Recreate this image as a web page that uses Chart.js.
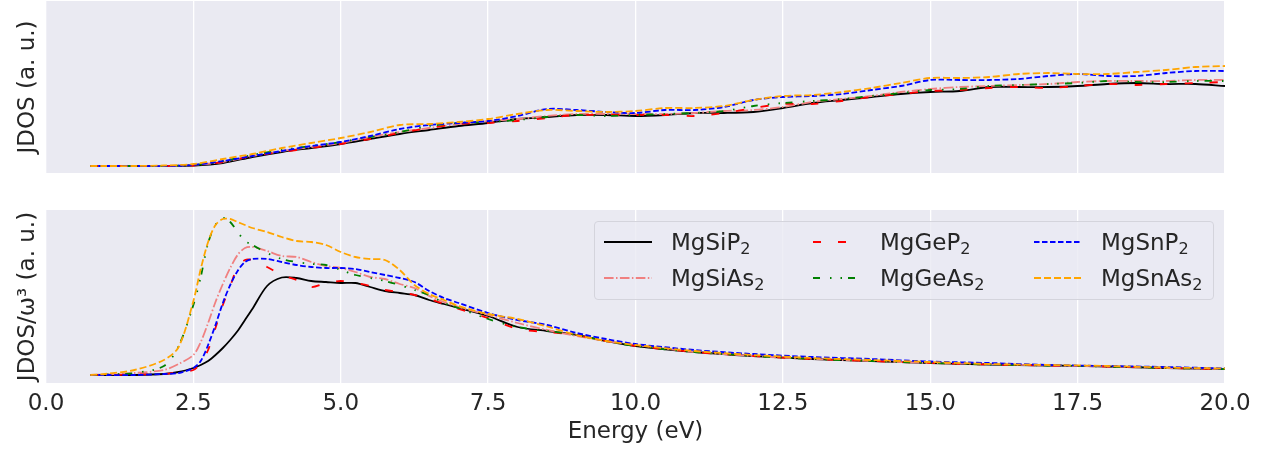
<!DOCTYPE html>
<html>
<head>
<meta charset="utf-8">
<script src="https://cdn.jsdelivr.net/npm/chart.js@4.4.0/dist/chart.umd.min.js"></script>
<style>
    body { margin: 0; background: #ffffff; }
    #wrap { position: relative; width: 1271px; height: 450px; font-family: 'DejaVu Sans', sans-serif; }
    #legend {
        position: absolute; left: 594px; top: 221px; width: 618px; height: 77px;
        background: rgba(234, 234, 242, 0.8); border: 1px solid #d4d4dc; border-radius: 4px;
    }
    .swatch { position: absolute; }
    .ltext { position: absolute; font-size: 23px; line-height: 28px; color: #262626; white-space: nowrap; }
    .ltext sub { font-size: 0.7em; vertical-align: -0.25em; line-height: 0; }
</style>
</head>
<body>
<div id="wrap">
    <canvas id="topChart" width="1271" height="180" style="position:absolute;left:0;top:0"></canvas>
    <canvas id="botChart" width="1271" height="270" style="position:absolute;left:0;top:180px"></canvas>
    <div id="legend"></div>
</div>
<script>
// compounds in legend order (two rows, three columns)
const compounds = ['MgSiP2', 'MgSiAs2', 'MgGeP2', 'MgGeAs2', 'MgSnP2', 'MgSnAs2'];
const colors = ['#000000', '#f08080', '#ff0000', '#008000', '#0000ff', '#ffa500'];
const dashes = [[], [9.6, 2.4, 1.5, 2.4], [8, 17], [7, 10, 1.5, 9, 1.5, 6], [5.5, 2.5], [7, 3]];

// upper panel: JDOS
const energyTop = [0.75, 1, 1.5, 2, 2.5, 3, 3.5, 4, 4.5, 5, 5.5, 6, 6.5, 7, 7.5, 8, 8.5, 9, 9.5, 10,
    10.5, 11, 11.5, 12, 12.5, 13, 13.5, 14, 14.5, 15, 15.5, 16, 16.5, 17, 17.5, 18, 18.5, 19, 19.5, 20];
const jdosMgSiP2 = [0, 0, 0, 0, 0.005, 0.03, 0.09, 0.14, 0.18, 0.22, 0.27, 0.32, 0.36, 0.40, 0.43, 0.47, 0.49, 0.51, 0.51, 0.50,
    0.51, 0.53, 0.53, 0.54, 0.58, 0.63, 0.66, 0.69, 0.72, 0.74, 0.75, 0.79, 0.79, 0.79, 0.80, 0.82, 0.83, 0.82, 0.82, 0.80];
const jdosMgSiAs2 = [0, 0, 0, 0, 0.01, 0.04, 0.10, 0.15, 0.19, 0.23, 0.29, 0.34, 0.38, 0.42, 0.45, 0.47, 0.50, 0.52, 0.52, 0.52,
    0.52, 0.53, 0.55, 0.56, 0.59, 0.64, 0.67, 0.70, 0.74, 0.77, 0.79, 0.80, 0.81, 0.82, 0.84, 0.85, 0.85, 0.85, 0.86, 0.86];
const jdosMgGeP2 = [0, 0, 0, 0, 0.005, 0.04, 0.10, 0.14, 0.18, 0.22, 0.27, 0.33, 0.38, 0.42, 0.43, 0.45, 0.48, 0.51, 0.51, 0.51,
    0.51, 0.50, 0.53, 0.58, 0.62, 0.62, 0.65, 0.69, 0.72, 0.75, 0.76, 0.78, 0.79, 0.78, 0.80, 0.82, 0.81, 0.82, 0.83, 0.84];
const jdosMgGeAs2 = [0, 0, 0, 0, 0.01, 0.05, 0.11, 0.16, 0.20, 0.24, 0.29, 0.34, 0.40, 0.43, 0.44, 0.46, 0.49, 0.51, 0.50, 0.51,
    0.52, 0.53, 0.55, 0.60, 0.63, 0.65, 0.67, 0.70, 0.73, 0.76, 0.77, 0.80, 0.81, 0.82, 0.83, 0.85, 0.84, 0.84, 0.85, 0.85];
const jdosMgSnP2 = [0, 0, 0, 0, 0.01, 0.05, 0.10, 0.15, 0.20, 0.24, 0.30, 0.37, 0.41, 0.43, 0.45, 0.50, 0.57, 0.56, 0.54, 0.53,
    0.56, 0.56, 0.59, 0.66, 0.69, 0.70, 0.72, 0.76, 0.80, 0.86, 0.86, 0.86, 0.87, 0.90, 0.92, 0.90, 0.90, 0.93, 0.95, 0.95];
const jdosMgSnAs2 = [0, 0, 0, 0.005, 0.02, 0.07, 0.12, 0.18, 0.23, 0.28, 0.34, 0.41, 0.42, 0.44, 0.47, 0.52, 0.56, 0.55, 0.54, 0.55,
    0.58, 0.58, 0.60, 0.66, 0.70, 0.71, 0.74, 0.78, 0.83, 0.88, 0.88, 0.89, 0.92, 0.93, 0.92, 0.92, 0.94, 0.96, 0.99, 1.00];

// lower panel: JDOS / w^3
const energyBot = [0.75, 1, 1.5, 2, 2.25, 2.5, 2.625, 2.75, 2.875, 3, 3.125, 3.25, 3.375, 3.5, 3.75, 4, 4.25, 4.5, 4.75, 5,
    5.25, 5.5, 5.75, 6, 6.25, 6.5, 6.75, 7, 7.5, 8, 8.5, 9, 9.5, 10, 11, 12, 13, 14, 15, 16, 17, 18, 19, 20];
const scaledMgSiP2 = [0, 0, 0, 0.01, 0.03, 0.07, 0.10, 0.14, 0.20, 0.27, 0.35, 0.44, 0.55, 0.66, 0.89, 0.975, 0.97, 0.94, 0.93, 0.92,
    0.92, 0.88, 0.84, 0.82, 0.80, 0.75, 0.71, 0.67, 0.59, 0.48, 0.44, 0.40, 0.34, 0.29, 0.23, 0.19, 0.16, 0.14, 0.12, 0.105, 0.095, 0.085, 0.07, 0.06];
const scaledMgSiAs2 = [0, 0.005, 0.02, 0.05, 0.11, 0.20, 0.33, 0.52, 0.73, 0.91, 1.07, 1.20, 1.27, 1.28, 1.24, 1.19, 1.18, 1.13, 1.09, 1.07,
    1.03, 0.98, 0.96, 0.91, 0.87, 0.79, 0.73, 0.68, 0.60, 0.52, 0.45, 0.39, 0.34, 0.30, 0.23, 0.19, 0.16, 0.14, 0.12, 0.11, 0.095, 0.085, 0.07, 0.06];
const scaledMgGeP2 = [0, 0, 0.005, 0.01, 0.03, 0.05, 0.12, 0.25, 0.47, 0.70, 0.89, 1.08, 1.15, 1.15, 1.08, 1.00, 0.95, 0.88, 0.92, 0.94,
    0.92, 0.89, 0.85, 0.83, 0.80, 0.76, 0.71, 0.66, 0.57, 0.46, 0.43, 0.40, 0.34, 0.29, 0.23, 0.19, 0.16, 0.14, 0.12, 0.105, 0.095, 0.085, 0.07, 0.06];
const scaledMgGeAs2 = [0, 0.005, 0.02, 0.09, 0.29, 0.70, 0.98, 1.32, 1.50, 1.57, 1.53, 1.43, 1.34, 1.30, 1.22, 1.16, 1.13, 1.11, 1.10, 1.05,
    1.00, 0.97, 0.94, 0.90, 0.85, 0.80, 0.72, 0.67, 0.56, 0.48, 0.44, 0.40, 0.34, 0.29, 0.23, 0.19, 0.16, 0.14, 0.12, 0.105, 0.095, 0.085, 0.07, 0.06];
const scaledMgSnP2 = [0, 0, 0, 0.01, 0.02, 0.07, 0.14, 0.30, 0.50, 0.72, 0.90, 1.04, 1.13, 1.16, 1.16, 1.13, 1.10, 1.08, 1.07, 1.07,
    1.06, 1.03, 1.00, 0.97, 0.93, 0.84, 0.77, 0.72, 0.62, 0.55, 0.50, 0.42, 0.36, 0.31, 0.25, 0.21, 0.18, 0.16, 0.135, 0.12, 0.10, 0.09, 0.08, 0.065];
const scaledMgSnAs2 = [0, 0.01, 0.05, 0.15, 0.28, 0.74, 1.06, 1.33, 1.50, 1.56, 1.56, 1.53, 1.50, 1.47, 1.43, 1.38, 1.34, 1.33, 1.30, 1.23,
    1.18, 1.16, 1.15, 1.05, 0.90, 0.81, 0.75, 0.69, 0.61, 0.56, 0.485, 0.40, 0.34, 0.30, 0.24, 0.20, 0.17, 0.15, 0.13, 0.11, 0.10, 0.09, 0.075, 0.065];

const xTicks = [0, 2.5, 5, 7.5, 10, 12.5, 15, 17.5, 20];

const topSeries = [jdosMgSiP2, jdosMgSiAs2, jdosMgGeP2, jdosMgGeAs2, jdosMgSnP2, jdosMgSnAs2];
const botSeries = [scaledMgSiP2, scaledMgSiAs2, scaledMgGeP2, scaledMgGeAs2, scaledMgSnP2, scaledMgSnAs2];

const FONT = 'DejaVu Sans';
const TEXT = '#262626';

const bgPlugin = {
    id: 'axesBg',
    beforeDraw(chart) {
        const { ctx, chartArea: a } = chart;
        ctx.save();
        ctx.fillStyle = '#eaeaf2';
        ctx.fillRect(a.left, a.top, a.right - a.left, a.bottom - a.top);
        ctx.restore();
    }
};

function makeSets(energy, series) {
    return series.map((vals, i) => ({
        label: compounds[i],
        data: energy.map((e, k) => ({ x: e, y: vals[k] })),
        borderColor: colors[i],
        backgroundColor: colors[i],
        borderDash: dashes[i],
        borderWidth: 1.8,
        pointRadius: 0,
        fill: false,
        tension: 0.3,
        order: 5 - i
    }));
}

function xScale(showLabels) {
    return {
        type: 'linear',
        min: 0,
        max: 20,
        afterBuildTicks: s => { s.ticks = xTicks.map(v => ({ value: v })); },
        ticks: {
            display: showLabels,
            autoSkip: false,
            maxRotation: 0,
            padding: 7,
            color: TEXT,
            font: { family: FONT, size: 23 },
            callback: v => Number(v).toFixed(1)
        },
        grid: { color: '#ffffff', lineWidth: 1.3, drawTicks: false },
        border: { display: false },
        title: {
            display: showLabels,
            text: 'Energy (eV)',
            color: TEXT,
            font: { family: FONT, size: 23 },
            padding: { top: 4, bottom: 4 }
        },
        afterFit: s => { s.height = showLabels ? 67 : 7; }
    };
}

function yScale(title, min, max) {
    return {
        min: min,
        max: max,
        ticks: { display: false },
        grid: { display: false },
        border: { display: false },
        title: {
            display: true,
            text: title,
            color: TEXT,
            font: { family: FONT, size: 23 },
            padding: { top: 14, bottom: 0 }
        },
        afterFit: s => { s.width = 46; }
    };
}

function baseOptions(padTop, xs, ys) {
    return {
        responsive: false,
        animation: false,
        layout: { padding: { left: 0, right: 46, top: padTop, bottom: 0 } },
        plugins: { legend: { display: false }, tooltip: { enabled: false } },
        scales: { x: xs, y: ys }
    };
}

new Chart(document.getElementById('topChart').getContext('2d'), {
    type: 'line',
    data: { datasets: makeSets(energyTop, topSeries) },
    options: baseOptions(1, xScale(false), yScale('JDOS (a. u.)', -0.07, 1.65)),
    plugins: [bgPlugin]
});

new Chart(document.getElementById('botChart').getContext('2d'), {
    type: 'line',
    data: { datasets: makeSets(energyBot, botSeries) },
    options: baseOptions(30, xScale(true), yScale('JDOS/ω³ (a. u.)', -0.08, 1.65)),
    plugins: [bgPlugin]
});

// legend, matplotlib style: column-major, 3 columns
const legend = document.getElementById('legend');
const swatchX = [9, 218, 439];
const textX = [76, 285, 506];
const rowY = [20, 56];
compounds.forEach((name, i) => {
    const col = Math.floor(i / 2), row = i % 2;
    const svg = document.createElementNS('http://www.w3.org/2000/svg', 'svg');
    svg.setAttribute('width', '48');
    svg.setAttribute('height', '6');
    svg.setAttribute('class', 'swatch');
    svg.style.left = swatchX[col] + 'px';
    svg.style.top = (rowY[row] - 3) + 'px';
    const line = document.createElementNS('http://www.w3.org/2000/svg', 'line');
    line.setAttribute('x1', '0'); line.setAttribute('y1', '3');
    line.setAttribute('x2', '48'); line.setAttribute('y2', '3');
    line.setAttribute('stroke', colors[i]);
    line.setAttribute('stroke-width', '1.8');
    if (dashes[i].length) line.setAttribute('stroke-dasharray', dashes[i].join(' '));
    svg.appendChild(line);
    legend.appendChild(svg);

    const txt = document.createElement('div');
    txt.className = 'ltext';
    txt.style.left = textX[col] + 'px';
    txt.style.top = (rowY[row] - 14) + 'px';
    txt.innerHTML = name.replace(/(\d)$/, '<sub>$1</sub>');
    legend.appendChild(txt);
});
</script>
</body>
</html>
